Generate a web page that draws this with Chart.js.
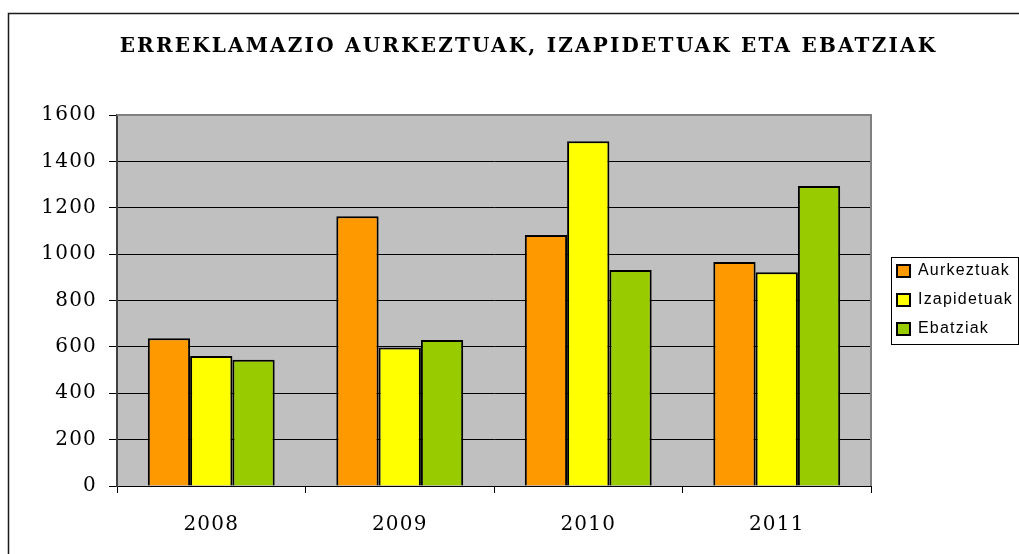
<!DOCTYPE html>
<html>
<head>
<meta charset="utf-8">
<script src="https://cdn.jsdelivr.net/npm/chart.js@4.4.1/dist/chart.umd.min.js"></script>
<style>
html,body{margin:0;padding:0;background:#fff;}
#wrap{position:relative;width:1019px;height:554px;}
</style>
</head>
<body>
<div id="wrap"><canvas id="c" width="1019" height="554"></canvas></div>
<script>
const chartTitle = 'ERREKLAMAZIO AURKEZTUAK, IZAPIDETUAK ETA EBATZIAK';
const categories = ['2008', '2009', '2010', '2011'];
const seriesNames = ['Aurkeztuak', 'Izapidetuak', 'Ebatziak'];
const aurkeztuak = [637, 1163, 1082, 966];
const izapidetuak = [561, 597, 1487, 922];
const ebatziak = [544, 630, 931, 1294];
const yTicks = [0, 200, 400, 600, 800, 1000, 1200, 1400, 1600];
const yTickLabels = ['0', '200', '400', '600', '800', '1000', '1200', '1400', '1600'];
const seriesColors = ['#FF9900', '#FFFF00', '#99CC00'];

// layout/style constants
const PLOT_RIGHT = 871;
const LEGEND_BOX_X = 897;
const LEGEND_FIRST_Y = 271;
const TITLE_SHIFT_X = 19;

function wrapDraw(obj, sp, shiftFn) {
  if (!obj || obj.__wrapped) return;
  const orig = obj.draw;
  obj.draw = function() {
    const ctx = this.ctx || this.chart.ctx;
    ctx.save();
    ctx.letterSpacing = sp;
    if (shiftFn) { const s = shiftFn(this); ctx.translate(s[0], s[1]); }
    const r = orig.apply(this, arguments);
    ctx.restore();
    return r;
  };
  obj.__wrapped = true;
}

function legendShift(lg) {
  const hb = lg.legendHitBoxes;
  if (!hb || !hb.length) return [0, 0];
  return [LEGEND_BOX_X - hb[0].left, LEGEND_FIRST_Y - (hb[0].top + hb[0].height / 2)];
}

const decor = {
  id: 'decor',
  beforeUpdate(chart) { chart.ctx.letterSpacing = '1.2px'; },
  beforeLayout(chart) {
    const lg = chart.legend;
    if (lg && !lg.__fitWrapped) {
      const origFit = lg.fit;
      lg.fit = function() {
        origFit.apply(this, arguments);
        this.width = chart.width - PLOT_RIGHT;
      };
      lg.__fitWrapped = true;
    }
  },
  afterLayout(chart) {
    wrapDraw(chart.titleBlock, '2.2px', () => [TITLE_SHIFT_X, 0]);
    wrapDraw(chart.legend, '1.2px', legendShift);
    wrapDraw(chart.scales.x, '3px');
    wrapDraw(chart.scales.y, '2.5px');
  },
  beforeDraw(chart) {
    const ctx = chart.ctx;
    const a = chart.chartArea;
    ctx.save();
    ctx.fillStyle = '#C0C0C0';
    ctx.fillRect(a.left, a.top, a.right - a.left, a.bottom - a.top);
    ctx.restore();
  },
  afterDraw(chart) {
    const ctx = chart.ctx;
    const a = chart.chartArea;
    ctx.save();
    ctx.strokeStyle = '#808080';
    ctx.lineWidth = 2;
    ctx.beginPath();
    ctx.moveTo(a.left, a.top);
    ctx.lineTo(a.right, a.top);
    ctx.lineTo(a.right, a.bottom);
    ctx.stroke();
    ctx.strokeStyle = '#1a1a1a';
    ctx.lineWidth = 1.5;
    ctx.beginPath();
    ctx.moveTo(8.5, 560);
    ctx.lineTo(8.5, 13.5);
    ctx.lineTo(1030, 13.5);
    ctx.stroke();
    const lg = chart.legend;
    if (lg && lg.legendHitBoxes && lg.legendHitBoxes.length) {
      const hb = lg.legendHitBoxes;
      const s = legendShift(lg);
      const first = hb[0], last = hb[hb.length - 1];
      const top = first.top + first.height / 2 + s[1] - 14.5;
      const bottom = last.top + last.height / 2 + s[1] + 14.5;
      const left = first.left + s[0] - 6;
      ctx.strokeStyle = '#000';
      ctx.lineWidth = 1;
      ctx.strokeRect(Math.round(left) + 0.5, Math.round(top) + 0.5, chart.width - Math.round(left) - 1, Math.round(bottom - top));
    }
    ctx.restore();
  }
};

const data = {
  labels: categories,
  datasets: [
    { label: seriesNames[0], data: aurkeztuak, backgroundColor: seriesColors[0] },
    { label: seriesNames[1], data: izapidetuak, backgroundColor: seriesColors[1] },
    { label: seriesNames[2], data: ebatziak, backgroundColor: seriesColors[2] }
  ].map(d => Object.assign(d, { borderColor: '#000', borderWidth: 2, categoryPercentage: 0.673, barPercentage: 1 }))
};

new Chart(document.getElementById('c'), {
  type: 'bar',
  data: data,
  plugins: [decor],
  options: {
    responsive: false,
    animation: false,
    devicePixelRatio: 1,
    layout: { padding: { top: 0, right: 0, bottom: 0, left: 0 } },
    plugins: {
      tooltip: { enabled: false },
      title: {
        display: true,
        text: chartTitle,
        color: '#000',
        font: { family: 'DejaVu Serif', size: 20, weight: 'bold' },
        padding: { top: 35, bottom: 56 }
      },
      legend: {
        display: true,
        position: 'right',
        align: 'center',
        labels: {
          color: '#000',
          font: { family: 'Liberation Sans', size: 16 },
          boxWidth: 13,
          boxHeight: 12,
          padding: 13,
          generateLabels(chart) {
            return chart.data.datasets.map((ds, i) => ({
              text: ds.label,
              fillStyle: ds.backgroundColor,
              strokeStyle: '#000',
              lineWidth: 2,
              hidden: false,
              datasetIndex: i,
              fontColor: '#000'
            }));
          }
        }
      }
    },
    scales: {
      x: {
        grid: { display: true, drawOnChartArea: false, offset: true, color: '#000', tickLength: 7, tickColor: '#000' },
        border: { display: true, color: '#000', width: 1 },
        ticks: { color: '#000', font: { family: 'DejaVu Serif', size: 20 }, padding: 20 },
        afterFit(s) { s.height = 68; }
      },
      y: {
        min: 0,
        max: 1600,
        afterBuildTicks(s) { s.ticks = yTicks.map(v => ({ value: v })); },
        grid: { color: '#000', lineWidth: 1, tickLength: 8, tickColor: '#000' },
        border: { display: true, color: '#404040', width: 2 },
        ticks: {
          color: '#000',
          font: { family: 'DejaVu Serif', size: 20 },
          padding: 12,
          callback(value, index) { return yTickLabels[yTicks.indexOf(value)]; }
        },
        afterFit(s) { s.width = 117; }
      }
    }
  }
});
</script>
</body>
</html>
